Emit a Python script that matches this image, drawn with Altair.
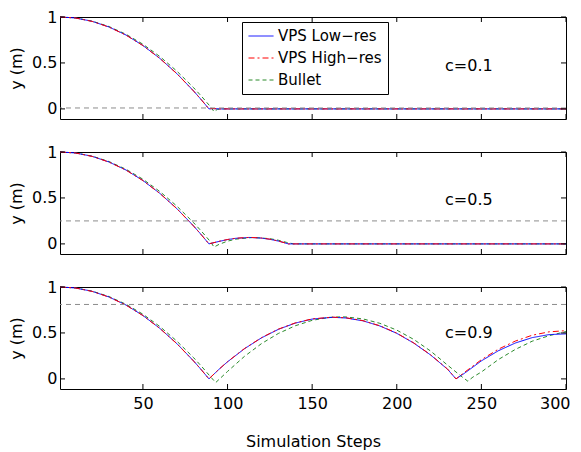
import altair as alt
import pandas as pd

SERIES = ["VPS Low−res", "VPS High−res", "Bullet"]
COLORS = ["#0000ff", "#ff0000", "#2a8a2a"]
DASHES = [[1, 0], [6, 3, 2, 3], [4, 3]]
X_TICKS = [50, 100, 150, 200, 250, 300]
Y_TICKS = [0, 0.5, 1]
C_LABELS = ["c=0.1", "c=0.5", "c=0.9"]
REST_LEVEL = [0.01, 0.25, 0.81]

# first drop, common to all panels
DROP_STEPS = [1, 10, 20, 30, 40, 50, 60, 70, 80, 85, 89]
LOW_DROP = [1.0, 0.99, 0.953, 0.891, 0.804, 0.69, 0.55, 0.385, 0.194, 0.089, 0.0]
HIGH_DROP = [1.0, 0.99, 0.952, 0.89, 0.803, 0.689, 0.549, 0.384, 0.193, 0.088, 0.0]
BUL_DROP_STEPS = [1, 10, 20, 30, 40, 50, 60, 70, 80, 85, 90]
BUL_DROP = [1.0, 0.99, 0.955, 0.896, 0.812, 0.704, 0.57, 0.412, 0.23, 0.129, 0.022]

# c = 0.1
A_LOW_STEPS = [91, 95, 300]
A_LOW = [0.003, 0.0, 0.0]
A_HIGH_STEPS = [91, 95, 300]
A_HIGH = [0.004, 0.0, 0.0]
A_BUL_STEPS = [92, 94, 97, 300]
A_BUL = [-0.03, -0.005, 0.0, 0.0]

# c = 0.5
B_LOW_STEPS = [95, 100, 105, 113, 120, 125, 130, 136, 300]
B_LOW = [0.027, 0.047, 0.061, 0.07, 0.063, 0.05, 0.031, 0.0, 0.0]
B_HIGH_STEPS = [95, 100, 105, 113, 120, 125, 130, 136, 300]
B_HIGH = [0.028, 0.048, 0.062, 0.071, 0.064, 0.051, 0.032, 0.0, 0.0]
B_BUL_STEPS = [92, 95, 100, 105, 115, 125, 130, 135, 139, 300]
B_BUL = [-0.035, -0.005, 0.03, 0.052, 0.07, 0.057, 0.04, 0.016, 0.0, 0.0]

# c = 0.9
C_LOW_STEPS = [95, 100, 110, 120, 130, 140, 150, 162, 170, 180, 190, 200, 210,
               220, 230, 235, 240, 250, 260, 270, 280, 290, 300]
C_LOW = [0.105, 0.186, 0.328, 0.446, 0.539, 0.607, 0.651, 0.67, 0.663, 0.632,
         0.576, 0.496, 0.39, 0.26, 0.105, 0.0, 0.061, 0.196, 0.306, 0.39, 0.449,
         0.482, 0.49]
C_HIGH_STEPS = [95, 100, 110, 120, 130, 140, 150, 162, 170, 180, 190, 200, 210,
                220, 230, 235, 240, 250, 260, 270, 280, 290, 300]
C_HIGH = [0.106, 0.187, 0.33, 0.448, 0.541, 0.609, 0.653, 0.672, 0.665, 0.634,
          0.578, 0.498, 0.392, 0.262, 0.107, 0.0, 0.071, 0.209, 0.323, 0.411,
          0.475, 0.512, 0.525]
C_BUL_STEPS = [93, 100, 110, 120, 130, 140, 150, 160, 167, 170, 180, 190, 200,
               210, 220, 230, 238, 242, 245, 250, 260, 270, 280, 290, 300]
C_BUL = [-0.04, 0.081, 0.245, 0.383, 0.494, 0.578, 0.637, 0.669, 0.675, 0.674,
         0.653, 0.605, 0.531, 0.43, 0.303, 0.15, 0.03, -0.025, 0.02, 0.075,
         0.21, 0.32, 0.41, 0.47, 0.515]

PANELS = [
    (A_LOW_STEPS, A_LOW, A_HIGH_STEPS, A_HIGH, A_BUL_STEPS, A_BUL),
    (B_LOW_STEPS, B_LOW, B_HIGH_STEPS, B_HIGH, B_BUL_STEPS, B_BUL),
    (C_LOW_STEPS, C_LOW, C_HIGH_STEPS, C_HIGH, C_BUL_STEPS, C_BUL),
]

W, H = 506, 102
FONT = "DejaVu Sans"
TEXT_Y = [49, 48, 46]

xscale = alt.Scale(domain=[1, 300], nice=False, zero=False)
yscale = alt.Scale(domain=[-0.11, 1], nice=False, zero=False)


def panel(i):
    ls, lv, hs, hv, bs, bv = PANELS[i]
    rows = []
    for s, v in zip(BUL_DROP_STEPS + bs, BUL_DROP + bv):
        rows.append({"step": s, "y": v, "series": "Bullet"})
    for s, v in zip(DROP_STEPS + ls, LOW_DROP + lv):
        rows.append({"step": s, "y": v, "series": "VPS Low−res"})
    for s, v in zip(DROP_STEPS + hs, HIGH_DROP + hv):
        rows.append({"step": s, "y": v, "series": "VPS High−res"})
    df = pd.DataFrame(rows)

    show_x = i == 2
    if show_x:
        xaxis = alt.Axis(values=X_TICKS, ticks=False, tickSize=0, domain=False, grid=False,
                         labelFlush=True, labelFlushOffset=4, labelPadding=6,
                         title="Simulation Steps", titlePadding=22)
    else:
        xaxis = None
    yaxis = alt.Axis(values=Y_TICKS, format="~g", ticks=False, tickSize=0, domain=False,
                     grid=False, labelPadding=3, title="y (m)", titlePadding=7)

    if i == 0:
        leg = alt.Legend(title=None, orient="none", legendX=182, legendY=5,
                         strokeColor="black", fillColor="white", padding=6,
                         labelFontSize=15, labelFont=FONT, labelColor="black",
                         symbolSize=625, symbolStrokeWidth=1, symbolType="stroke",
                         clipHeight=16, rowPadding=6, labelOffset=4, cornerRadius=0,
                         labelLimit=220)
    else:
        leg = None

    lines = alt.Chart(df).mark_line(strokeWidth=1).encode(
        x=alt.X("step:Q", scale=xscale, axis=xaxis),
        y=alt.Y("y:Q", scale=yscale, axis=yaxis),
        color=alt.Color("series:N", scale=alt.Scale(domain=SERIES, range=COLORS), legend=leg),
        strokeDash=alt.StrokeDash("series:N", scale=alt.Scale(domain=SERIES, range=DASHES), legend=leg),
    )

    level = alt.Chart(pd.DataFrame({"lvl": [REST_LEVEL[i]]})).mark_rule(
        color="#8c8c8c", strokeWidth=1, strokeDash=[5, 4]
    ).encode(y=alt.Y("lvl:Q", scale=yscale, axis=yaxis))

    xt = pd.DataFrame({"t": X_TICKS})
    yt = pd.DataFrame({"t": Y_TICKS})
    tb = alt.Chart(xt).mark_rule(color="black").encode(
        x=alt.X("t:Q", scale=xscale, axis=xaxis), y=alt.value(H), y2=alt.value(H - 5))
    tt = alt.Chart(xt).mark_rule(color="black").encode(
        x=alt.X("t:Q", scale=xscale, axis=xaxis), y=alt.value(0), y2=alt.value(5))
    tl = alt.Chart(yt).mark_rule(color="black").encode(
        y=alt.Y("t:Q", scale=yscale, axis=yaxis), x=alt.value(0), x2=alt.value(5))
    tr = alt.Chart(yt).mark_rule(color="black").encode(
        y=alt.Y("t:Q", scale=yscale, axis=yaxis), x=alt.value(W - 5), x2=alt.value(W))

    label = alt.Chart(pd.DataFrame({"lab": [C_LABELS[i]]})).mark_text(
        align="left", baseline="middle", fontSize=16, font=FONT, color="black"
    ).encode(x=alt.value(385), y=alt.value(TEXT_Y[i]), text="lab:N")

    return alt.layer(lines, level, tb, tt, tl, tr, label).properties(width=W, height=H)


chart = alt.vconcat(panel(0), panel(1), panel(2), spacing=33, bounds="flush").resolve_scale(
    color="independent", strokeDash="independent"
).resolve_legend(
    color="independent", strokeDash="independent"
).configure_view(
    stroke="black", strokeWidth=1
).configure_axis(
    labelFont=FONT, titleFont=FONT, labelFontSize=16, titleFontSize=16,
    titleFontWeight="normal", labelColor="black", titleColor="black"
).properties(
    padding={"left": 0, "top": 0, "right": 2, "bottom": 2}
)

chart.save("out.html", embed_options={"renderer": "svg", "actions": False})
